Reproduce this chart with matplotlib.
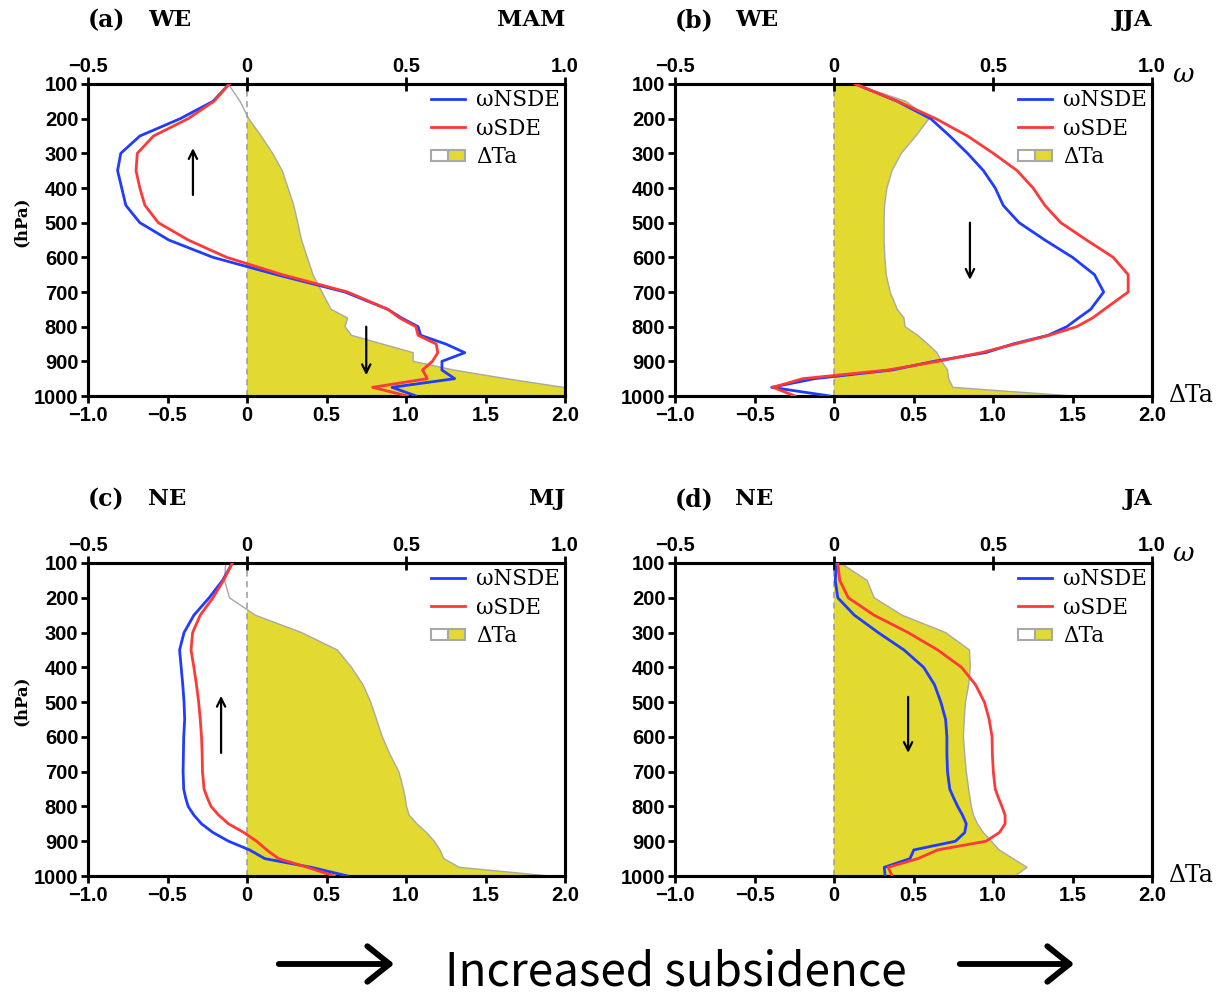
import matplotlib
matplotlib.use("Agg")
import matplotlib.pyplot as plt
from matplotlib.patches import Rectangle, FancyArrowPatch
from matplotlib.legend_handler import HandlerBase
import numpy as np

# pressure levels (hPa)
plev = [100, 150, 200, 250, 300, 350, 400, 450, 500, 550, 600, 650, 700,
        750, 775, 800, 825, 850, 875, 900, 925, 950, 975, 1000]

# (a) WE, MAM
nsde_a = [-0.056, -0.107, -0.21, -0.337, -0.397, -0.407, -0.394, -0.381, -0.337, -0.246,
          -0.107, 0.093, 0.308, 0.443, 0.486, 0.538, 0.546, 0.625, 0.685, 0.613,
          0.613, 0.653, 0.456, 0.532]
sde_a = [-0.056, -0.104, -0.185, -0.294, -0.345, -0.349, -0.337, -0.321, -0.279, -0.185,
         -0.064, 0.111, 0.316, 0.443, 0.48, 0.531, 0.538, 0.595, 0.6, 0.583,
         0.552, 0.567, 0.395, 0.504]
dta_a = [-0.117, -0.044, 0.011, 0.089, 0.161, 0.222, 0.258, 0.294, 0.319, 0.343,
         0.379, 0.415, 0.471, 0.529, 0.633, 0.616, 0.657, 0.851, 1.045, 1.045,
         1.299, 1.63, 1.99, 2.2]

# (b) WE, JJA
nsde_b = [0.067, 0.199, 0.304, 0.364, 0.42, 0.47, 0.507, 0.532, 0.582, 0.663,
          0.75, 0.819, 0.848, 0.807, 0.769, 0.732, 0.673, 0.563, 0.476, 0.314,
          0.183, -0.061, -0.196, -0.013]
sde_b = [0.067, 0.201, 0.32, 0.42, 0.501, 0.576, 0.626, 0.663, 0.713, 0.794,
         0.878, 0.925, 0.925, 0.85, 0.813, 0.763, 0.676, 0.569, 0.463, 0.326,
         0.17, -0.098, -0.192, -0.123]
dta_b = [0.128, 0.452, 0.597, 0.515, 0.423, 0.365, 0.333, 0.318, 0.315, 0.315,
         0.32, 0.328, 0.353, 0.398, 0.44, 0.447, 0.527, 0.59, 0.647, 0.677,
         0.714, 0.721, 0.747, 1.5]

# (c) NE, MJ
nsde_c = [-0.046, -0.077, -0.119, -0.167, -0.198, -0.212, -0.207, -0.202, -0.198, -0.196,
          -0.199, -0.2, -0.201, -0.199, -0.193, -0.185, -0.167, -0.143, -0.107, -0.058,
          0.008, 0.056, 0.202, 0.317]
sde_c = [-0.046, -0.074, -0.107, -0.147, -0.171, -0.176, -0.167, -0.159, -0.152, -0.147,
         -0.143, -0.141, -0.14, -0.135, -0.125, -0.113, -0.089, -0.058, -0.01, 0.03,
         0.062, 0.099, 0.19, 0.274]
dta_c = [-0.134, -0.141, -0.11, 0.052, 0.343, 0.568, 0.657, 0.73, 0.778, 0.815,
         0.851, 0.899, 0.955, 0.984, 0.995, 1.003, 1.02, 1.069, 1.129, 1.178,
         1.214, 1.238, 1.335, 1.9]

# (d) NE, JA
nsde_d = [0.008, 0.004, 0.012, 0.064, 0.139, 0.22, 0.282, 0.316, 0.336, 0.351,
          0.355, 0.355, 0.357, 0.364, 0.376, 0.389, 0.404, 0.416, 0.411, 0.382,
          0.251, 0.239, 0.158, 0.161]
sde_d = [0.012, 0.018, 0.045, 0.126, 0.233, 0.326, 0.401, 0.445, 0.473, 0.488,
         0.497, 0.498, 0.501, 0.507, 0.517, 0.528, 0.538, 0.538, 0.52, 0.478,
         0.326, 0.264, 0.17, 0.183]
dta_d = [0.041, 0.208, 0.253, 0.428, 0.702, 0.852, 0.857, 0.847, 0.827, 0.819,
         0.814, 0.822, 0.832, 0.847, 0.855, 0.864, 0.877, 0.902, 0.939, 0.989,
         1.039, 1.126, 1.214, 1.139]

# arrows: (x on dTa axis, tail pressure, head pressure)
arrow_a = [(-0.34, 420, 285), (0.75, 800, 940)]
arrow_b = [(0.855, 500, 665)]
arrow_c = [(-0.163, 646, 482)]
arrow_d = [(0.466, 485, 646)]

panels = [
    ("(a)", "WE", "MAM", nsde_a, sde_a, dta_a, arrow_a),
    ("(b)", "WE", "JJA", nsde_b, sde_b, dta_b, arrow_b),
    ("(c)", "NE", "MJ", nsde_c, sde_c, dta_c, arrow_c),
    ("(d)", "NE", "JA", nsde_d, sde_d, dta_d, arrow_d),
]

bot_ticks = [-1.0, -0.5, 0, 0.5, 1.0, 1.5, 2.0]
bot_labels = ["−1.0", "−0.5", "0", "0.5", "1.0", "1.5", "2.0"]
top_ticks = [-0.5, 0, 0.5, 1.0]
top_labels = ["−0.5", "0", "0.5", "1.0"]
p_ticks = list(range(100, 1001, 100))

BLUE = "#1f3cff"
RED = "#ff3838"
YELLOW = "#e3da31"
GREY = "#a8a8a8"

tick_font = {"family": "Liberation Sans", "weight": "bold", "size": 14.5}
serif = "DejaVu Serif"


class HalfBoxHandler(HandlerBase):
    # white/yellow box for the dTa shading
    def create_artists(self, legend, orig_handle, xdescent, ydescent,
                       width, height, fontsize, trans):
        h = height * 0.75
        y0 = -ydescent + (height - h) / 2
        r1 = Rectangle((-xdescent, y0), width / 2, h, facecolor="white",
                       edgecolor=GREY, lw=1.5, transform=trans)
        r2 = Rectangle((-xdescent + width / 2, y0), width / 2, h, facecolor=YELLOW,
                       edgecolor=GREY, lw=1.5, transform=trans)
        return [r1, r2]


fig = plt.figure(figsize=(12.2, 9.94), dpi=100)

positions = [
    [88 / 1220, 1 - 396 / 994, 477 / 1220, 312 / 994],
    [675 / 1220, 1 - 396 / 994, 477 / 1220, 312 / 994],
    [88 / 1220, 1 - 876 / 994, 477 / 1220, 313 / 994],
    [675 / 1220, 1 - 876 / 994, 477 / 1220, 313 / 994],
]

for i, (tag, region, season, nsde, sde, dta, arrows) in enumerate(panels):
    ax = fig.add_axes(positions[i])
    p = np.array(plev)
    d = np.array(dta)

    # dTa shading: yellow where positive, white where negative
    ax.fill_betweenx(p, 0, d, where=d >= 0, interpolate=True,
                     facecolor=YELLOW, edgecolor="none", zorder=1)
    ax.plot(d, p, color=GREY, lw=1.0, zorder=2)
    ax.axvline(0, color="#9a9a9a", ls=(0, (4, 3)), lw=1.1, zorder=2)

    ax.set_xlim(-1.0, 2.0)
    ax.set_ylim(1000, 100)
    ax.set_xticks(bot_ticks)
    ax.set_xticklabels(bot_labels, fontdict=tick_font)
    ax.set_yticks(p_ticks)
    ax.set_yticklabels([str(v) for v in p_ticks], fontdict=tick_font)
    ax.tick_params(axis="both", direction="out", length=5, width=2, pad=2)

    for x, p0, p1 in arrows:
        ax.annotate("", xy=(x, p1), xytext=(x, p0),
                    arrowprops=dict(arrowstyle="->,head_length=0.6,head_width=0.3",
                                    lw=1.6, color="black", shrinkA=0, shrinkB=0),
                    zorder=5)

    ax2 = ax.twiny()
    ax2.set_xlim(-0.5, 1.0)
    ax2.set_xticks(top_ticks)
    ax2.set_xticklabels(top_labels, fontdict=tick_font)
    ax2.tick_params(axis="x", direction="inout", length=10, width=2, pad=1)
    l1, = ax2.plot(nsde, plev, color=BLUE, lw=2.0, zorder=3)
    l2, = ax2.plot(sde, plev, color=RED, lw=2.0, zorder=3)

    for a in (ax, ax2):
        for s in a.spines.values():
            s.set_linewidth(2.2)

    box = Rectangle((0, 0), 1, 1)
    ax2.legend([l1, l2, box], ["ωNSDE", "ωSDE", "ΔTa"],
               handler_map={Rectangle: HalfBoxHandler()},
               loc="upper right", frameon=False,
               prop={"family": serif, "size": 15.5},
               handlelength=1.6, handletextpad=0.5, labelspacing=0.3,
               borderaxespad=0.05, borderpad=0.2)

    ax.text(0.0, 1.205, tag, transform=ax.transAxes, fontsize=17,
            family=serif, weight="bold", va="center", ha="left")
    ax.text(0.126, 1.205, region, transform=ax.transAxes, fontsize=16.5,
            family=serif, weight="bold", va="center", ha="left")
    ax.text(1.0, 1.205, season, transform=ax.transAxes, fontsize=16.5,
            family=serif, weight="bold", va="center", ha="right")

    if i % 2 == 0:
        ax.text(-0.14, 0.56, "(hPa)", transform=ax.transAxes, rotation=90,
                fontsize=12, family=serif, weight="bold", va="center", ha="center")
    else:
        ax.text(1.065, 1.03, "ω", transform=ax.transAxes, fontsize=19,
                family=serif, style="italic", va="center", ha="center")
        ax.text(1.08, 0.0, "ΔTa", transform=ax.transAxes, fontsize=17,
                family=serif, va="center", ha="center")

# bottom caption with arrows
fig.text(676 / 1220, 1 - 972 / 994, "Increased subsidence", fontsize=33,
         family=["Noto Sans CJK KR", "DejaVu Sans"], ha="center", va="center")
for x0, x1 in [(276, 397), (957, 1077)]:
    fig.add_artist(FancyArrowPatch(
        (x0 / 1220, 1 - 964 / 994), (x1 / 1220, 1 - 964 / 994),
        transform=fig.transFigure,
        arrowstyle="->,head_length=0.4,head_width=0.32",
        mutation_scale=40, lw=4.2, color="black"))

fig.savefig("out.png", dpi=100)
